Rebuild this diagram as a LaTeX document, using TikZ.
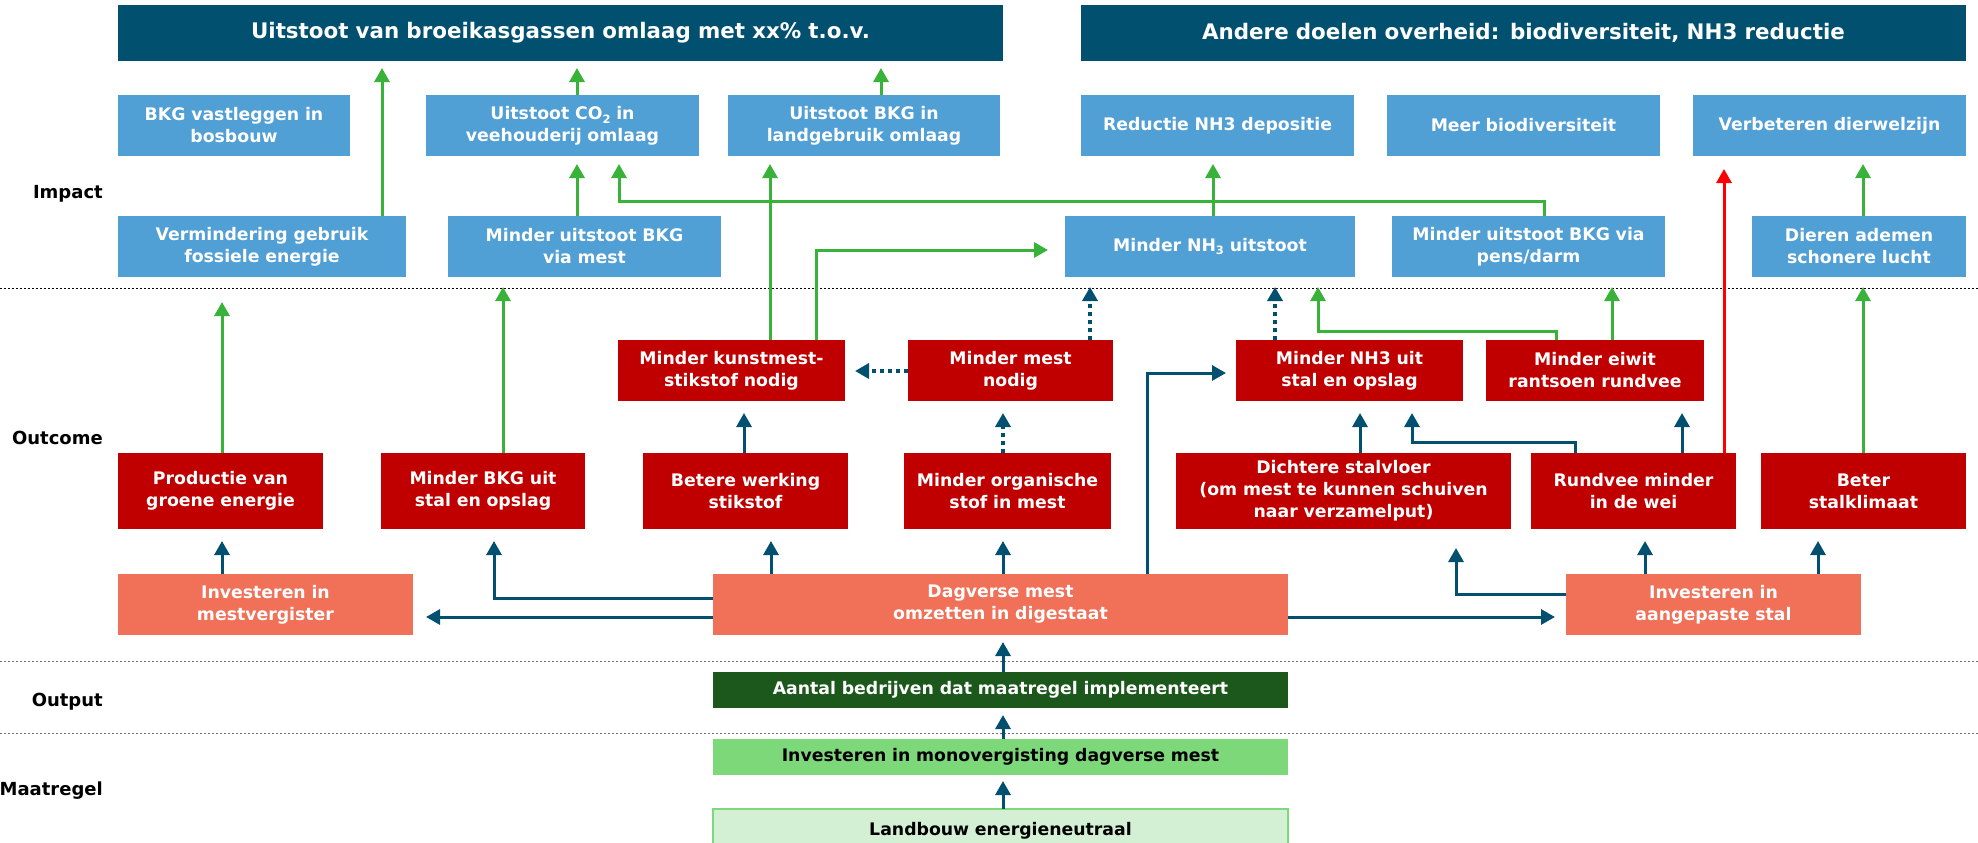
\documentclass[tikz,border=0pt]{standalone}
\usepackage{fontspec}
\setmainfont{DejaVu Sans}
\usetikzlibrary{arrows.meta}

\definecolor{navy}{RGB}{2,80,112}
\definecolor{skyb}{RGB}{80,159,213}
\definecolor{crimson}{RGB}{192,0,0}
\definecolor{salmon}{RGB}{240,112,88}
\definecolor{forest}{RGB}{28,87,27}
\definecolor{leaf}{RGB}{125,216,122}
\definecolor{mint}{RGB}{212,240,212}
\definecolor{grn}{RGB}{56,178,56}
\definecolor{redline}{RGB}{255,0,0}
\definecolor{sepgray}{RGB}{110,110,110}

\newcommand\sbs[1]{\raisebox{-0.22em}{\fontsize{11.5}{11.5}\selectfont #1}}

% box from its corners: name, style, x1, x2, y1, y2, text
\newcommand\bx[7]{%
  \pgfmathsetmacro\BxW{#4-#3}\pgfmathsetmacro\BxH{#6-#5}%
  \pgfmathsetmacro\BxX{(#3+#4)/2}\pgfmathsetmacro\BxY{(#5+#6)/2}%
  \pgfmathsetmacro\BxT{#4-#3-6}%
  \node[#2, minimum width=\BxW pt, minimum height=\BxH pt, text width=\BxT pt] (#1) at (\BxX,\BxY) {#7};}

\tikzset{
  box/.style={inner sep=0pt, outer sep=0pt, align=center, text=white,
    font=\fontsize{17.3}{22}\selectfont\bfseries},
  banner/.style={box, fill=navy, font=\fontsize{21.4}{25}\selectfont\bfseries},
  impactbox/.style={box, fill=skyb},
  outbox/.style={box, fill=crimson},
  investbox/.style={box, fill=salmon},
  outputbox/.style={box, fill=forest},
  measurebox/.style={box, fill=leaf, text=black},
  basebox/.style={box, fill=mint, draw=leaf, line width=1.5pt, text=black},
  tip/.style={-{Triangle[length=14pt, width=15pt]}},
  gline/.style={tip, draw=grn, line width=3pt},
  bline/.style={tip, draw=navy, line width=3pt},
  rline/.style={tip, draw=redline, line width=3pt},
  bdots/.style={tip, draw=navy, line width=3.5pt, dash pattern=on 4pt off 4pt},
  sep/.style={line width=1pt, dash pattern=on 2pt off 2pt},
  lvl/.style={anchor=east, inner sep=0pt, font=\fontsize{18}{20}\selectfont\bfseries}
}

\begin{document}
\begin{tikzpicture}[x=1pt, y=-1pt]
\useasboundingbox (0,0) rectangle (1978,843);

% level separators
\draw[sep, black] (0,288) -- (1978,288);
\draw[sep, sepgray] (0,661) -- (1978,661);
\draw[sep, sepgray] (0,733) -- (1978,733);

% level labels
\node[lvl] (lImpact) at (103,194) {Impact};
\node[lvl] (lOutcome) at (103,438) {Outcome};
\node[lvl] (lOutput) at (103,702) {Output};
\node[lvl] (lMaatregel) at (103,791) {Maatregel};

% goals
\bx{banL}{banner}{118}{1003}{5}{61}{Uitstoot van broeikasgassen omlaag met xx\% t.o.v.}
\bx{banR}{banner}{1081}{1966}{5}{61}{Andere doelen overheid: biodiversiteit, NH3 reductie}

% impact, upper row
\bx{bos}{impactbox}{118}{350}{95}{156}{BKG vastleggen in\\bosbouw}
\bx{co2}{impactbox}{426}{699}{95}{156}{Uitstoot CO\sbs{2} in\\veehouderij omlaag}
\bx{landg}{impactbox}{728}{1000}{95}{156}{Uitstoot BKG in\\landgebruik omlaag}
\bx{nhdep}{impactbox}{1081}{1354}{95}{156}{Reductie NH3 depositie}
\bx{biodiv}{impactbox}{1387}{1660}{95}{156}{Meer biodiversiteit}
\bx{welzijn}{impactbox}{1693}{1966}{95}{156}{Verbeteren dierwelzijn}

% impact, lower row
\bx{fossiel}{impactbox}{118}{406}{216}{277}{Vermindering gebruik\\fossiele energie}
\bx{bkgmest}{impactbox}{448}{721}{216}{277}{Minder uitstoot BKG\\via mest}
\bx{nhuit}{impactbox}{1065}{1355}{216}{277}{Minder NH\sbs{3} uitstoot}
\bx{pens}{impactbox}{1392}{1665}{216}{277}{Minder uitstoot BKG via\\pens/darm}
\bx{adem}{impactbox}{1752}{1966}{216}{277}{Dieren ademen\\schonere lucht}

% outcome, upper row
\bx{kunst}{outbox}{618}{845}{340}{401}{Minder kunstmest-\\stikstof nodig}
\bx{mestnodig}{outbox}{908}{1113}{340}{401}{Minder mest\\nodig}
\bx{nhstal}{outbox}{1236}{1463}{340}{401}{Minder NH3 uit\\stal en opslag}
\bx{eiwit}{outbox}{1486}{1704}{340}{401}{Minder eiwit\\rantsoen rundvee}

% outcome, lower row
\bx{groen}{outbox}{118}{323}{453}{529}{Productie van\\groene energie}
\bx{bkgstal}{outbox}{381}{585}{453}{529}{Minder BKG uit\\stal en opslag}
\bx{werking}{outbox}{643}{848}{453}{529}{Betere werking\\stikstof}
\bx{organ}{outbox}{904}{1111}{453}{529}{Minder organische\\stof in mest}
\bx{vloer}{outbox}{1176}{1511}{453}{529}{Dichtere stalvloer\\(om mest te kunnen schuiven\\naar verzamelput)}
\bx{wei}{outbox}{1531}{1736}{453}{529}{Rundvee minder\\in de wei}
\bx{klimaat}{outbox}{1761}{1966}{453}{529}{Beter\\stalklimaat}

% investments
\bx{vergister}{investbox}{118}{413}{574}{635}{Investeren in\\mestvergister}
\bx{dagvers}{investbox}{713}{1288}{574}{635}{Dagverse mest\\omzetten in digestaat}
\bx{stal}{investbox}{1566}{1861}{574}{635}{Investeren in\\aangepaste stal}

% output and measure
\bx{aantal}{outputbox}{713}{1288}{672}{708}{Aantal bedrijven dat maatregel implementeert}
\bx{mono}{measurebox}{713}{1288}{739}{775}{Investeren in monovergisting dagverse mest}
\bx{landbouw}{basebox}{713}{1288}{809}{852}{\raisebox{4pt}{Landbouw energieneutraal}}

% green links
\draw[gline, shorten >=7pt] (382,0 |- fossiel.north) -- (382,0 |- banL.south);
\draw[gline, shorten >=7pt] (577,0 |- co2.north) -- (577,0 |- banL.south);
\draw[gline, shorten >=7pt] (881,0 |- landg.north) -- (881,0 |- banL.south);
\draw[gline, shorten >=8pt] (577,0 |- bkgmest.north) -- (577,0 |- co2.south);
\draw[gline, shorten >=8pt] (1544,0 |- pens.north) -- (1544,201) -| (619,0 |- co2.south);
\draw[gline, shorten >=8pt] (770,0 |- kunst.north) -- (770,0 |- landg.south);
\draw[gline, shorten >=17pt] (816,0 |- kunst.north) |- ([yshift=-3.5pt]nhuit.west);
\draw[gline, shorten >=8pt] (1213,0 |- nhuit.north) -- (1213,0 |- nhdep.south);
\draw[gline, shorten >=8pt] (1863,0 |- adem.north) -- (1863,0 |- welzijn.south);
\draw[gline, shorten >=25pt] (222,0 |- groen.north) -- (222,0 |- fossiel.south);
\draw[gline, shorten >=10pt] (503,0 |- bkgstal.north) -- (503,0 |- bkgmest.south);
\draw[gline, shorten >=10pt] (1556,0 |- eiwit.north) -- (1556,331) -| (1318,0 |- nhuit.south);
\draw[gline, shorten >=10pt] (1612,0 |- eiwit.north) -- (1612,0 |- pens.south);
\draw[gline, shorten >=10pt] (1863,0 |- klimaat.north) -- (1863,0 |- adem.south);

% red link
\draw[rline, shorten >=13pt] (1724,0 |- wei.north) -- (1724,0 |- welzijn.south);

% dotted links
\draw[bdots, shorten >=10pt] (mestnodig.west |- 0,371) -- (kunst.east |- 0,371);
\draw[bdots, shorten >=12pt] (1003,0 |- organ.north) -- (1003,0 |- mestnodig.south);
\draw[bdots, shorten >=10pt] (1090,0 |- mestnodig.north) -- (1090,0 |- nhuit.south);
\draw[bdots, shorten >=10pt] (1275,0 |- nhstal.north) -- (1275,0 |- nhuit.south);

% blue links
\draw[bline, shorten >=12pt] (744,0 |- werking.north) -- (744,0 |- kunst.south);
\draw[bline, shorten >=12pt] (1360,0 |- vloer.north) -- (1360,0 |- nhstal.south);
\draw[bline, shorten >=12pt] (1575,0 |- wei.north) -- (1575,442) -| (1412,0 |- nhstal.south);
\draw[bline, shorten >=12pt] (1682,0 |- wei.north) -- (1682,0 |- eiwit.south);
\draw[bline, shorten >=12pt] (222,0 |- vergister.north) -- (222,0 |- groen.south);
\draw[bline, shorten >=13pt] (dagvers.west |- 0,617) -- (vergister.east |- 0,617);
\draw[bline, shorten >=12pt] (dagvers.west |- 0,598) -| (494,0 |- bkgstal.south);
\draw[bline, shorten >=12pt] (771,0 |- dagvers.north) -- (771,0 |- werking.south);
\draw[bline, shorten >=12pt] (1003,0 |- dagvers.north) -- (1003,0 |- organ.south);
\draw[bline, shorten >=10pt] (1147,0 |- dagvers.north) |- (nhstal.west |- 0,373);
\draw[bline, shorten >=11pt] (dagvers.east |- 0,617) -- (stal.west |- 0,617);
\draw[bline, shorten >=19pt] (stal.west |- 0,594) -| (1456,0 |- vloer.south);
\draw[bline, shorten >=12pt] (1645,0 |- stal.north) -- (1645,0 |- wei.south);
\draw[bline, shorten >=12pt] (1818,0 |- stal.north) -- (1818,0 |- klimaat.south);
\draw[bline, shorten >=7pt] (1003,0 |- aantal.north) -- (1003,0 |- dagvers.south);
\draw[bline, shorten >=7pt] (1003,0 |- mono.north) -- (1003,0 |- aantal.south);
\draw[bline, shorten >=6pt] (1003,0 |- landbouw.north) -- (1003,0 |- mono.south);
\end{tikzpicture}
\end{document}
